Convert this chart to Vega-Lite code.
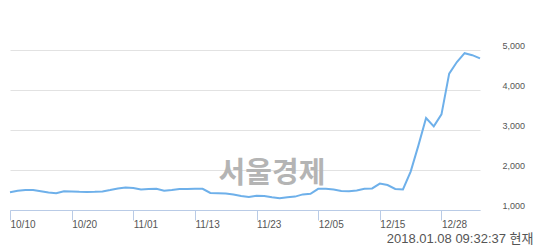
{
  "$schema": "https://vega.github.io/schema/vega-lite/v6.json",
  "width": 470,
  "height": 160,
  "autosize": {"type": "none"},
  "padding": {"left": 10, "top": 50, "right": 60, "bottom": 38},
  "background": "white",
  "config": {"view": {"stroke": null}},
  "title": {
    "text": "2018.01.08 09:32:37 현재",
    "orient": "bottom",
    "anchor": "end",
    "frame": "bounds",
    "font": "Liberation Sans, Noto Sans CJK KR",
    "fontSize": 13,
    "fontWeight": "normal",
    "color": "#555555",
    "offset": 4,
    "dx": 9
  },
  "datasets": {
    "prices": [
      {"d": "10/10", "v": 1445}, {"d": "10/11", "v": 1480}, {"d": "10/12", "v": 1500}, {"d": "10/13", "v": 1500},
      {"d": "10/16", "v": 1470}, {"d": "10/17", "v": 1440}, {"d": "10/18", "v": 1420}, {"d": "10/19", "v": 1470},
      {"d": "10/20", "v": 1465}, {"d": "10/23", "v": 1455}, {"d": "10/24", "v": 1450}, {"d": "10/25", "v": 1455},
      {"d": "10/26", "v": 1465}, {"d": "10/27", "v": 1500}, {"d": "10/30", "v": 1540}, {"d": "10/31", "v": 1565},
      {"d": "11/01", "v": 1550}, {"d": "11/02", "v": 1510}, {"d": "11/03", "v": 1525}, {"d": "11/06", "v": 1530},
      {"d": "11/07", "v": 1480}, {"d": "11/08", "v": 1500}, {"d": "11/09", "v": 1525}, {"d": "11/10", "v": 1525},
      {"d": "11/13", "v": 1530}, {"d": "11/14", "v": 1530}, {"d": "11/15", "v": 1425}, {"d": "11/16", "v": 1420},
      {"d": "11/17", "v": 1415}, {"d": "11/20", "v": 1390}, {"d": "11/21", "v": 1350}, {"d": "11/22", "v": 1325},
      {"d": "11/23", "v": 1355}, {"d": "11/24", "v": 1350}, {"d": "11/27", "v": 1320}, {"d": "11/28", "v": 1295},
      {"d": "11/29", "v": 1320}, {"d": "11/30", "v": 1335}, {"d": "12/01", "v": 1390}, {"d": "12/04", "v": 1405},
      {"d": "12/05", "v": 1530}, {"d": "12/06", "v": 1530}, {"d": "12/07", "v": 1510}, {"d": "12/08", "v": 1475},
      {"d": "12/11", "v": 1470}, {"d": "12/12", "v": 1490}, {"d": "12/13", "v": 1530}, {"d": "12/14", "v": 1540},
      {"d": "12/15", "v": 1660}, {"d": "12/18", "v": 1625}, {"d": "12/19", "v": 1525}, {"d": "12/20", "v": 1515},
      {"d": "12/21", "v": 1960}, {"d": "12/22", "v": 2610}, {"d": "12/26", "v": 3300}, {"d": "12/27", "v": 3090},
      {"d": "12/28", "v": 3390}, {"d": "01/02", "v": 4410}, {"d": "01/03", "v": 4700}, {"d": "01/04", "v": 4920},
      {"d": "01/05", "v": 4870}, {"d": "01/08", "v": 4790}
    ],
    "mark": [{"t": "서울경제", "d": "11/27", "v": 1900}]
  },
  "encoding": {
    "x": {
      "field": "d", "type": "ordinal", "sort": null,
      "scale": {"type": "point", "padding": 0},
      "axis": {
        "title": null,
        "values": ["10/10", "10/20", "11/01", "11/13", "11/23", "12/05", "12/15", "12/28"],
        "labelAngle": 0, "labelAlign": "left", "labelBaseline": "top",
        "labelPadding": -1, "labelDx": 1,
        "labelFont": "Liberation Sans", "labelFontSize": 10, "labelColor": "#555555",
        "tickSize": 10, "tickColor": "#b9cbe6", "domainColor": "#b9cbe6",
        "grid": false, "labelOverlap": false
      }
    },
    "y": {
      "field": "v", "type": "quantitative",
      "scale": {"domain": [1000, 5000], "nice": false, "zero": false},
      "axis": {
        "title": null, "orient": "right",
        "values": [1000, 2000, 3000, 4000, 5000], "format": ",d",
        "ticks": false, "domain": false, "labelOverlap": false,
        "grid": true, "gridColor": "#e2e2e2",
        "labelAlign": "left", "labelBaseline": "alphabetic", "labelPadding": 22, "labelOffset": -2,
        "labelFont": "Liberation Sans", "labelFontSize": 9, "labelColor": "#555555"
      }
    }
  },
  "layer": [
    {
      "data": {"name": "prices"},
      "mark": {"type": "line", "color": "#6eb0ea", "strokeWidth": 2, "clip": false}
    },
    {
      "data": {"name": "mark"},
      "mark": {"type": "text", "font": "Noto Sans CJK KR", "fontSize": 29, "fontWeight": "bold", "color": "#b4b4b4", "baseline": "middle", "align": "center"},
      "encoding": {
        "text": {"field": "t"}
      }
    }
  ]
}
